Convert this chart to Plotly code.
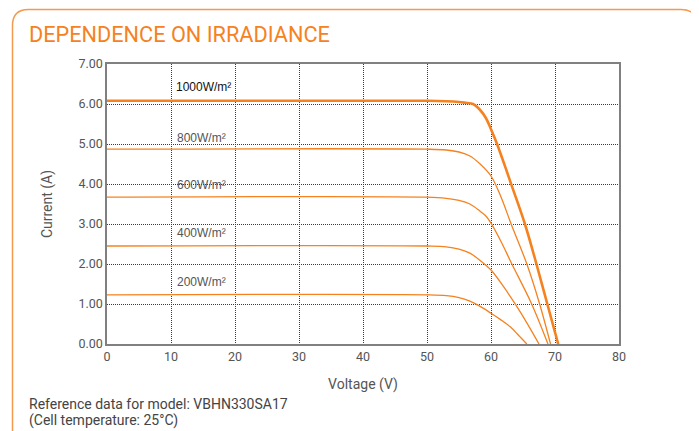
import plotly.graph_objects as go

W, H = 699, 431
OFF = 8  # page offset of the figure in the browser window
# desired plot area in window pixels
PL, PR, PT, PB = 107, 619, 64, 344
PW, PH = PR - PL, PB - PT
L, T = PL - OFF, PT - OFF
R = W - (PR - OFF)
B = H - (PB - OFF)

def px(x):
    return (x - PL) / PW

def py(y):
    return (PB - y) / PH

ORANGE = "#F5821F"
GRAY = "#555555"

# I-V curves (voltage V, current A)
v1000 = [0, 50, 53, 55, 56, 57.2, 58.3, 59.2, 60, 60.9, 62, 63.1, 65.3, 67.1, 68.8, 70.5]
i1000 = [6.08, 6.08, 6.07, 6.05, 6.03, 6.0, 5.85, 5.65, 5.37, 5.02, 4.53, 4.02, 3.0, 2.0, 1.0, 0]
v800 = [0, 50, 53, 55, 56.7, 58.3, 60, 61.5, 63.1, 65.6, 67.6, 69.3]
i800 = [4.87, 4.87, 4.85, 4.80, 4.70, 4.50, 4.20, 3.70, 3.02, 2.0, 1.0, 0]
v600 = [0, 50, 53, 55, 56.7, 58.3, 59.2, 60, 61.6, 63.2, 66.3, 68.9]
i600 = [3.67, 3.67, 3.64, 3.59, 3.50, 3.32, 3.20, 3.02, 2.55, 2.02, 1.02, 0]
v400 = [0, 50, 53, 55, 56.7, 58.3, 60, 61.8, 63.7, 65.6, 67.5]
i400 = [2.45, 2.45, 2.43, 2.37, 2.27, 2.09, 1.85, 1.47, 1.02, 0.53, 0]
v200 = [0, 50, 53, 55, 56.7, 58.3, 60, 61.5, 63, 64.3, 65.6]
i200 = [1.23, 1.23, 1.21, 1.16, 1.07, 0.94, 0.77, 0.61, 0.43, 0.22, 0]

series = [
    ("1000W/m²", v1000, i1000, 2.6),
    ("800W/m²", v800, i800, 1.3),
    ("600W/m²", v600, i600, 1.3),
    ("400W/m²", v400, i400, 1.3),
    ("200W/m²", v200, i200, 1.3),
]
label_x = [10.4, 10.6, 10.6, 10.6, 10.6]
label_y = [6.42, 5.15, 3.98, 2.78, 1.55]
label_col = ["#111111", GRAY, GRAY, GRAY, GRAY]

x_ticks = [0, 10, 20, 30, 40, 50, 60, 70, 80]
y_ticks = [0, 1, 2, 3, 4, 5, 6, 7]

fig = go.Figure()
for name, v, i, w in series:
    fig.add_trace(go.Scatter(x=v, y=i, mode="lines", name=name,
                             line=dict(color=ORANGE, width=w, shape="spline", smoothing=1.0),
                             showlegend=False, hoverinfo="skip"))

for (name, v, i, w), lx, ly, lc in zip(series, label_x, label_y, label_col):
    fig.add_annotation(x=lx, y=ly, xref="x", yref="y", text=name, showarrow=False,
                       xanchor="left", yanchor="middle",
                       font=dict(family="Liberation Sans, Arial", size=12, color=lc))

fig.add_annotation(x=px(27), y=py(35), xref="paper", yref="paper",
                   text="DEPENDENCE ON IRRADIANCE", showarrow=False,
                   xanchor="left", yanchor="middle",
                   font=dict(family="Roboto", size=21.7, color=ORANGE))
fig.add_annotation(x=px(27), y=py(404), xref="paper", yref="paper",
                   text="Reference data for model: VBHN330SA17", showarrow=False,
                   xanchor="left", yanchor="middle",
                   font=dict(family="Roboto", size=14, color="#444444"))
fig.add_annotation(x=px(27), y=py(420), xref="paper", yref="paper",
                   text="(Cell temperature: 25°C)", showarrow=False,
                   xanchor="left", yanchor="middle",
                   font=dict(family="Roboto", size=14, color="#444444"))

# rounded orange frame
x0, x1, y0, y1 = 12.5, 697, 9.5, 445
r = 16
rx, ry = r / PW, r / PH
X0, X1, Y0, Y1 = px(x0), px(x1), py(y0), py(y1)
path = (f"M {X0},{Y1} L {X0},{Y0 - ry} Q {X0},{Y0} {X0 + rx},{Y0} "
        f"L {X1 - rx},{Y0} Q {X1},{Y0} {X1},{Y0 - ry} L {X1},{Y1}")
fig.add_shape(type="path", path=path, xref="paper", yref="paper",
              line=dict(color="#F39A4E", width=1.5))

grid = dict(showgrid=True, gridcolor="#3a3a3a", griddash="1px,1px", gridwidth=1,
            showline=True, linecolor="#808080", linewidth=1.5, mirror=True,
            zeroline=False, ticks="", ticklen=0,
            tickfont=dict(family="Roboto", size=12.5, color=GRAY))

fig.update_layout(
    width=W, height=H,
    margin=dict(l=L, r=R, t=T, b=B),
    paper_bgcolor="white", plot_bgcolor="white",
    xaxis=dict(range=[0, 80], tickvals=x_ticks, ticktext=[str(t) for t in x_ticks],
               title=dict(text="Voltage (V)", standoff=16,
                          font=dict(family="Roboto", size=14, color=GRAY)), **grid),
    yaxis=dict(range=[0, 7], tickvals=y_ticks, ticktext=[f"{t:.2f}" for t in y_ticks],
               title=dict(text="Current (A)", standoff=22,
                          font=dict(family="Roboto", size=14, color=GRAY)), **grid),
)

fig.write_html("out.html")
